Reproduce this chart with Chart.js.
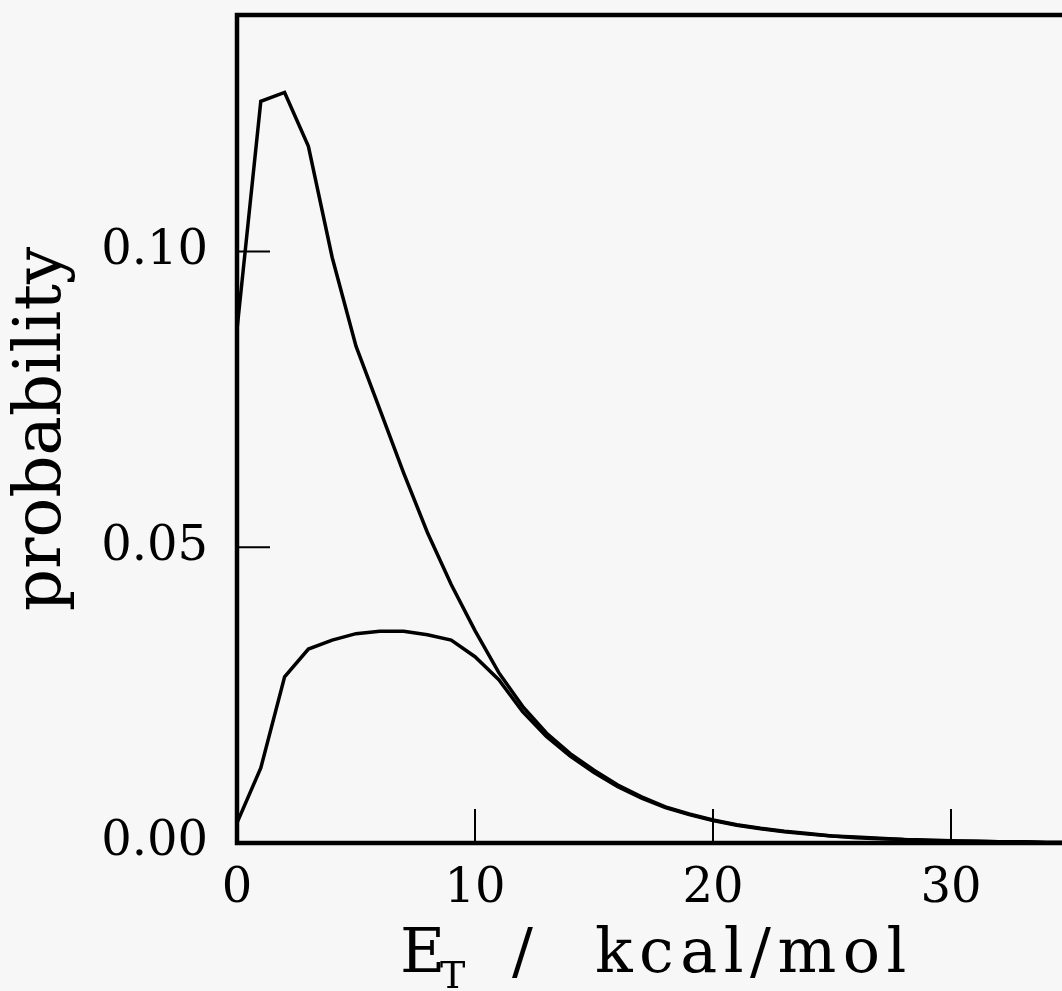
<!DOCTYPE html>
<html lang="en">
<head>
<meta charset="UTF-8">
<title>probability vs E_T</title>
<script src="https://cdn.jsdelivr.net/npm/chart.js"></script>
<style>
body {
    margin: 0;
    background: #f7f7f7;
    overflow: hidden;
}
#chartContainer {
    position: relative;
    width: 1080px;
    height: 991px;
}
.xTitle {
    position: absolute;
    display: block;
    font-family: 'DejaVu Serif', serif;
    color: #000;
    white-space: nowrap;
    line-height: 1;
}
</style>
</head>
<body>

<div id="chartContainer">
    <canvas id="myChart"></canvas>
    <!-- x axis title: E_T / kcal/mol -->
    <span class="xTitle" style="left:400px; top:920px; font-size:62px;">E</span>
    <span class="xTitle" style="left:440px; top:956px; font-size:38px;">T</span>
    <span class="xTitle" style="left:512px; top:920px; font-size:62px;">/</span>
    <span class="xTitle" style="left:595px; top:920px; font-size:62px; letter-spacing:6.5px;">kcal/mol</span>
</div>

<script>
// energy grid (kcal/mol)
const energies = [0, 1, 2, 3, 4, 5, 6, 7, 8, 9, 10, 11, 12, 13, 14, 15, 16, 17,
                  18, 19, 20, 21, 22, 23, 24, 25, 26, 27, 28, 29, 30, 31, 32, 33, 34, 35];

// upper curve
const upperCurve = [0.0868, 0.1254, 0.1269, 0.1178, 0.0990, 0.0840, 0.0733, 0.0626, 0.0525,
                    0.0437, 0.0359, 0.0288, 0.0231, 0.0186, 0.0151, 0.0123, 0.0098, 0.0078,
                    0.0061, 0.0049, 0.0039, 0.0031, 0.0025, 0.0020, 0.0016, 0.0012, 0.0010,
                    0.0008, 0.0006, 0.0005, 0.0004, 0.0003, 0.0002, 0.0002, 0.0001, 0.0001];

// lower curve
const lowerCurve = [0.0034, 0.0127, 0.0281, 0.0328, 0.0343, 0.0354, 0.0358, 0.0358, 0.0352,
                    0.0343, 0.0315, 0.0276, 0.0222, 0.0180, 0.0147, 0.0119, 0.0095, 0.0076,
                    0.0060, 0.0048, 0.0038, 0.0030, 0.0024, 0.0019, 0.0015, 0.0012, 0.0009,
                    0.0007, 0.0006, 0.0004, 0.0003, 0.0003, 0.0002, 0.0002, 0.0001, 0.0001];

const xTicks = [0, 10, 20, 30];
const yTicks = [0.00, 0.05, 0.10];

function toPoints(ys) {
    return energies.map((x, i) => ({ x: x, y: ys[i] }));
}

// frame around the plot and inward tick marks
const frameAndTicks = {
    id: 'frameAndTicks',
    afterDatasetsDraw(chart) {
        const { ctx, chartArea: a, scales: { x, y } } = chart;
        ctx.save();
        ctx.strokeStyle = '#000';
        ctx.lineWidth = 2;
        ctx.beginPath();
        xTicks.forEach(v => {
            const px = x.getPixelForValue(v);
            ctx.moveTo(px, a.bottom);
            ctx.lineTo(px, a.bottom - 34);
        });
        yTicks.forEach(v => {
            const py = y.getPixelForValue(v);
            ctx.moveTo(a.left, py);
            ctx.lineTo(a.left + 33, py);
        });
        ctx.stroke();
        ctx.lineWidth = 4.5;
        ctx.strokeRect(a.left, a.top, a.right - a.left, a.bottom - a.top);
        ctx.restore();
    }
};

const lineStyle = {
    borderColor: '#000',
    borderWidth: 3.5,
    pointRadius: 0,
    tension: 0,
    fill: false
};

const ctx = document.getElementById('myChart').getContext('2d');
const myChart = new Chart(ctx, {
    type: 'line',
    data: {
        datasets: [
            Object.assign({ label: 'upper', data: toPoints(upperCurve) }, lineStyle),
            Object.assign({ label: 'lower', data: toPoints(lowerCurve) }, lineStyle)
        ]
    },
    options: {
        responsive: true,
        maintainAspectRatio: false,
        animation: false,
        layout: { padding: { top: 15, right: 10, left: 0, bottom: 0 } },
        plugins: {
            legend: { display: false },
            tooltip: { enabled: false }
        },
        scales: {
            x: {
                type: 'linear',
                min: 0,
                max: 35,
                grid: { display: false, drawTicks: false },
                border: { display: false },
                ticks: {
                    color: '#000',
                    padding: 18,
                    maxRotation: 0,
                    font: { family: 'DejaVu Serif', size: 48 },
                    callback: v => String(v)
                },
                afterBuildTicks: s => { s.ticks = xTicks.map(v => ({ value: v })); },
                afterFit: s => { s.height = 148; s.paddingLeft = 0; s.paddingRight = 0; }
            },
            y: {
                min: 0,
                max: 0.14,
                grid: { display: false, drawTicks: false },
                border: { display: false },
                ticks: {
                    color: '#000',
                    padding: 29,
                    font: { family: 'DejaVu Serif', size: 48 },
                    callback: v => v.toFixed(2)
                },
                title: {
                    display: true,
                    text: 'probability',
                    color: '#000',
                    padding: { top: 3, bottom: 0 },
                    font: { family: 'DejaVu Serif', size: 66, weight: 'normal' }
                },
                afterBuildTicks: s => { s.ticks = yTicks.map(v => ({ value: v })); },
                afterFit: s => { s.width = 237; s.paddingTop = 0; s.paddingBottom = 0; }
            }
        }
    },
    plugins: [frameAndTicks]
});
</script>

</body>
</html>
